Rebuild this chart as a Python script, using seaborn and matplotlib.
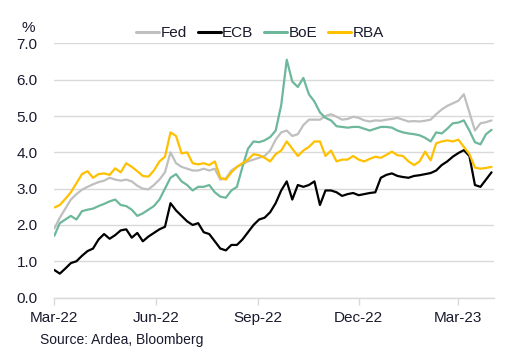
import numpy as np
import pandas as pd
import matplotlib
matplotlib.use("Agg")
import matplotlib.pyplot as plt
import seaborn as sns

# observation dates, every 5 days from 1 Mar 2022
dates = pd.date_range("2022-03-01", periods=80, freq="5D")

fed = [1.90, 2.20, 2.45, 2.70, 2.85, 2.97, 3.05, 3.12, 3.18, 3.22,
       3.30, 3.25, 3.22, 3.25, 3.20, 3.08, 3.00, 2.98, 3.10, 3.25,
       3.45, 4.00, 3.70, 3.60, 3.55, 3.50, 3.50, 3.55, 3.50, 3.55,
       3.25, 3.28, 3.50, 3.60, 3.68, 3.75, 3.80, 3.85, 3.90, 4.05,
       4.35, 4.55, 4.60, 4.45, 4.50, 4.75, 4.90, 4.90, 4.90, 5.00,
       5.05, 4.98, 4.90, 4.92, 4.98, 4.95, 4.88, 4.85, 4.88, 4.87,
       4.90, 4.92, 4.95, 4.90, 4.85, 4.86, 4.85, 4.87, 4.90, 5.05,
       5.18, 5.28, 5.35, 5.42, 5.60, 5.10, 4.60, 4.80, 4.83, 4.88]

ecb = [0.76, 0.66, 0.80, 0.95, 1.00, 1.15, 1.28, 1.35, 1.60, 1.75,
       1.62, 1.72, 1.85, 1.88, 1.65, 1.78, 1.55, 1.68, 1.78, 1.88,
       1.95, 2.60, 2.40, 2.25, 2.10, 2.00, 2.05, 1.80, 1.75, 1.55,
       1.35, 1.30, 1.45, 1.45, 1.60, 1.80, 2.00, 2.15, 2.20, 2.35,
       2.60, 2.95, 3.20, 2.70, 3.10, 3.05, 3.10, 3.20, 2.55, 2.95,
       2.95, 2.90, 2.80, 2.85, 2.88, 2.82, 2.85, 2.88, 2.90, 3.30,
       3.38, 3.42, 3.35, 3.32, 3.30, 3.35, 3.37, 3.40, 3.43, 3.50,
       3.65, 3.75, 3.88, 3.98, 4.06, 3.90, 3.10, 3.05, 3.25, 3.45]

boe = [1.70, 2.05, 2.15, 2.25, 2.15, 2.38, 2.42, 2.45, 2.52, 2.58,
       2.65, 2.70, 2.55, 2.52, 2.42, 2.25, 2.32, 2.42, 2.52, 2.70,
       3.00, 3.30, 3.40, 3.20, 3.10, 2.95, 3.05, 3.05, 3.10, 2.90,
       2.78, 2.75, 2.95, 3.05, 3.60, 4.10, 4.30, 4.28, 4.33, 4.42,
       4.60, 5.30, 6.55, 5.95, 5.80, 6.05, 5.60, 5.40, 5.10, 4.95,
       4.88, 4.72, 4.70, 4.68, 4.70, 4.70, 4.65, 4.60, 4.65, 4.70,
       4.70, 4.68, 4.60, 4.55, 4.52, 4.50, 4.47, 4.40, 4.30, 4.55,
       4.52, 4.65, 4.80, 4.82, 4.88, 4.60, 4.28, 4.22, 4.50, 4.62]

rba = [2.48, 2.55, 2.72, 2.90, 3.15, 3.40, 3.48, 3.30, 3.40, 3.42,
       3.38, 3.56, 3.45, 3.70, 3.60, 3.48, 3.35, 3.33, 3.50, 3.75,
       3.88, 4.55, 4.45, 3.97, 4.00, 3.70, 3.67, 3.70, 3.65, 3.75,
       3.30, 3.25, 3.45, 3.60, 3.70, 3.80, 3.95, 3.92, 3.85, 3.75,
       3.95, 4.05, 4.30, 4.10, 3.90, 4.05, 4.15, 4.30, 4.30, 3.90,
       4.05, 3.75, 3.80, 3.80, 3.90, 3.80, 3.75, 3.82, 3.88, 3.85,
       3.93, 4.02, 3.92, 3.90, 3.75, 3.65, 3.75, 4.02, 3.78, 4.25,
       4.30, 4.33, 4.30, 4.35, 4.15, 3.95, 3.58, 3.55, 3.57, 3.60]

series_names = ["Fed", "ECB", "BoE", "RBA"]
colors = {"Fed": "#BFBFBF", "ECB": "#000000", "BoE": "#6DB89A", "RBA": "#FFC000"}
tick_dates = ["2022-03-01", "2022-06-01", "2022-09-01", "2022-12-01", "2023-03-01"]
tick_labels = ["Mar-22", "Jun-22", "Sep-22", "Dec-22", "Mar-23"]

df = pd.DataFrame({"date": dates, "Fed": fed, "ECB": ecb, "BoE": boe, "RBA": rba})
long = df.melt(id_vars="date", value_vars=series_names, var_name="bank", value_name="rate")

sns.set_style("white")
plt.rcParams["font.family"] = ["Liberation Sans", "DejaVu Sans"]

fig = plt.figure(figsize=(5.14, 3.53), dpi=100)
ax = fig.add_axes([0.1056, 0.157, 0.855, 0.72])

sns.lineplot(data=long, x="date", y="rate", hue="bank", hue_order=series_names,
             palette=colors, linewidth=1.6, ax=ax, legend=False)

ax.set_ylim(0, 7)
ax.set_yticks(np.arange(0, 7.01, 1.0))
ax.set_yticklabels([f"{v:.1f}" for v in np.arange(0, 7.01, 1.0)])
ax.set_xlim(pd.Timestamp("2022-03-01"), pd.Timestamp("2023-04-02"))
ax.set_xticks(pd.to_datetime(tick_dates))
ax.set_xticklabels(tick_labels)
ax.grid(axis="y", color="#D9D9D9", linewidth=1)
ax.set_axisbelow(True)
for s in ["left", "right", "top"]:
    ax.spines[s].set_visible(False)
ax.spines["bottom"].set_color("#D9D9D9")
ax.spines["bottom"].set_linewidth(1)
ax.tick_params(axis="x", length=5, width=1, color="#D9D9D9", labelsize=11,
               labelcolor="#1a1a2e", pad=5, bottom=True)
ax.tick_params(axis="y", length=0, labelsize=11, labelcolor="#1a1a2e", pad=12)
ax.set_xlabel("")
ax.set_ylabel("")

fig.text(28 / 514, 1 - 28 / 353, "%", fontsize=11, color="#1a1a2e", ha="center", va="center")
fig.text(40 / 514, 1 - 340 / 353, "Source: Ardea, Bloomberg", fontsize=10,
         color="#1a1a2e", ha="left", va="center")

handles = [plt.Line2D([], [], color=colors[n], linewidth=2.2) for n in series_names]
fig.legend(handles, series_names, loc="center", bbox_to_anchor=(260 / 514, 1 - 33 / 353),
           ncol=4, frameon=False, fontsize=11, handlelength=1.5, handletextpad=0.1,
           columnspacing=0.7, labelcolor="#1a1a2e")

fig.savefig("out.png", dpi=100)
